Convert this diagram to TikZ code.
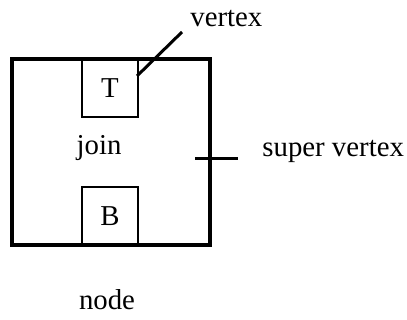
\documentclass[tikz,border=0pt]{standalone}
\usepackage{fontspec}
\setmainfont{Liberation Serif}
\usepackage{tikz}
\usetikzlibrary{positioning,calc}

\begin{document}
\begin{tikzpicture}[
  x=0.5pt,y=-0.5pt,
  font=\fontsize{14.4}{17}\selectfont,
  outer/.style={draw,line width=1.6pt,minimum width=99pt,minimum height=93pt,inner sep=0pt},
  inner/.style={draw,line width=1.4pt,minimum width=28pt,minimum height=29pt,inner sep=0pt},
  lab/.style={inner sep=0pt},
  lead/.style={line width=1.5pt}
]
\useasboundingbox (0,0) rectangle (407,320);
% super vertex with its two vertices
\node[outer] (sv) at (111,152) {};
\node[inner] (t) at (110,88) {T};
\node[inner] (b) at (110,216) {B};
\node[lab,anchor=base] (jn) at (99,155) {join};
% labels and leaders
\node[lab,anchor=base west] (vlab) at (190,27) {vertex};
\node[lab,anchor=base west] (svlab) at (262,157) {super vertex};
\node[lab,anchor=base] (nd) at (107,310) {node};
\coordinate (vt) at (137,76);
\coordinate (vs) at (182,32);
\coordinate (tk) at (195,159);
\draw[lead] (vs) -- (vt);
\draw[lead,shorten >=12pt] (tk) -- (svlab.west |- tk);
\end{tikzpicture}
\end{document}
